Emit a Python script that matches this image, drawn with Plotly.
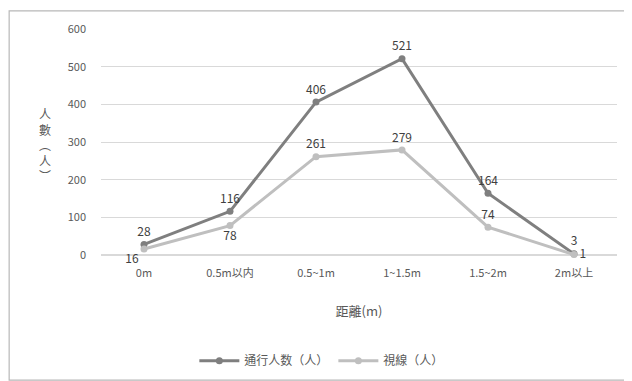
import plotly.graph_objects as go

categories = ["0m", "0.5m以内", "0.5~1m", "1~1.5m", "1.5~2m", "2m以上"]
pass_count = [28, 116, 406, 521, 164, 3]
gaze_count = [16, 78, 261, 279, 74, 1]
series_names = ["通行人数（人）", "視線（人）"]
y_ticks = [0, 100, 200, 300, 400, 500, 600]

FONT = "Noto Sans CJK TC, Noto Sans CJK JP, sans-serif"
dark = "#7f7f7f"
light = "#bfbfbf"

fig = go.Figure()
fig.add_trace(go.Scatter(
    x=categories, y=pass_count, name=series_names[0],
    mode="lines+markers+text", line=dict(color=dark, width=3),
    marker=dict(size=7, color=dark),
    text=[str(v) for v in pass_count], textposition="top center",
    textfont=dict(family=FONT, size=12, color="#404040"),
    cliponaxis=False,
))
gaze_pos = ["bottom left", "bottom center", "top center", "top center", "top center", "middle right"]
fig.add_trace(go.Scatter(
    x=categories, y=gaze_count, name=series_names[1],
    mode="lines+markers+text", line=dict(color=light, width=3),
    marker=dict(size=7, color=light),
    text=[str(v) for v in gaze_count], textposition=gaze_pos,
    textfont=dict(family=FONT, size=12, color="#404040"),
    cliponaxis=False,
))

fig.update_layout(
    width=624, height=373,
    margin=dict(l=93, r=15, t=21, b=126, autoexpand=False),
    paper_bgcolor="white", plot_bgcolor="white",
    font=dict(family=FONT, size=11, color="#595959"),
    showlegend=True,
    legend=dict(orientation="h", x=0.428, y=-0.468, xanchor="center", yanchor="middle",
                font=dict(size=12, color="#595959"), itemwidth=40),
    xaxis=dict(
        type="category", range=[-0.5, len(categories) - 0.5],
        showgrid=False, showline=False, zeroline=False, automargin=False,
        ticks="", tickfont=dict(size=11, color="#595959"), ticklabelstandoff=10,
        title=dict(text="距離(m)", font=dict(size=13, color="#595959"), standoff=27),
    ),
    yaxis=dict(
        range=[0, 600], tickvals=y_ticks, showgrid=True, gridcolor="#d9d9d9", automargin=False,
        gridwidth=1, zeroline=True, zerolinecolor="#d9d9d9", showline=False,
        tickfont=dict(size=11, color="#595959"), ticklabelstandoff=14,
    ),
    annotations=[dict(
        text="人<br>數<br>︵<br>人<br>︶", xref="paper", yref="paper",
        x=-0.108, y=0.49, xanchor="center", yanchor="middle", showarrow=False,
        font=dict(size=12, color="#595959", family=FONT),
    )],
    shapes=[dict(type="rect", xref="paper", yref="paper", layer="below",
                 x0=-0.178, x1=1.02, y0=-0.554, y1=1.08,
                 line=dict(color="#b8b8b8", width=1.2))],
)

fig.write_html("out.html")
